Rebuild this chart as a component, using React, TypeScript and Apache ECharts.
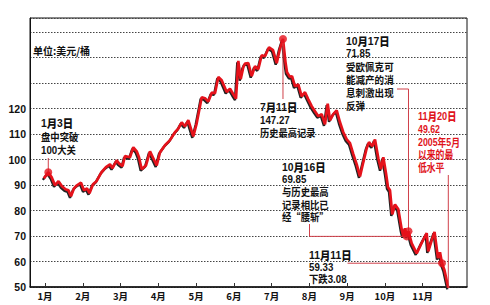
import React, { useEffect, useRef } from "react";
import * as echarts from "echarts";

// Month tick labels (value axis in "month units": 0 = start of Jan)
const monthLabels = ["1月", "2月", "3月", "4月", "5月", "6月", "7月", "8月", "9月", "10月", "11月"];
const monthTicks = [0, 1, 2, 3, 4, 5, 6, 7, 8, 9, 10];
const yLabelMax = 120;

// Oil price line (USD / barrel), x in month units
const monthPos = [
  -0.03, 0.087, 0.177, 0.265, 0.357, 0.45, 0.543, 0.622, 0.688, 0.768, 0.847, 0.953,
  1.033, 1.112, 1.178, 1.271, 1.364, 1.496, 1.615, 1.721, 1.787, 1.898, 1.959,
  2.052, 2.118, 2.25, 2.338, 2.428, 2.489, 2.56, 2.674, 2.78, 2.867, 2.957,
  3.045, 3.177, 3.31, 3.442, 3.529, 3.619, 3.707, 3.794, 3.926,
  4.016, 4.149, 4.236, 4.324, 4.414, 4.501, 4.588, 4.678, 4.811, 4.898, 4.985,
  5.057, 5.118, 5.181, 5.25, 5.295, 5.383, 5.473, 5.56, 5.647, 5.737, 5.825, 5.931,
  6.037, 6.135, 6.222, 6.301, 6.367, 6.407, 6.487, 6.54, 6.619, 6.706, 6.796, 6.884, 6.971,
  7.061, 7.148, 7.236, 7.326, 7.413, 7.485, 7.546, 7.633, 7.723, 7.81, 7.898, 7.988,
  8.075, 8.163, 8.253, 8.34, 8.427, 8.517, 8.578, 8.666, 8.737, 8.825, 8.896, 8.957,
  9.028, 9.081, 9.134, 9.195, 9.267, 9.354, 9.444, 9.487, 9.531, 9.579, 9.624, 9.709, 9.841, 9.973,
  10.106, 10.148, 10.238, 10.313, 10.405, 10.458, 10.511, 10.577, 10.678,
];
const price = [
  92.6, 95.0, 93.0, 89.9, 91.5, 89.5, 88.3, 87.9, 85.6, 88.7, 89.9, 90.9,
  87.9, 88.7, 86.8, 90.3, 91.5, 95.0, 97.0, 98.1, 96.6, 99.7, 98.5,
  97.4, 101.3, 100.9, 104.8, 103.2, 100.9, 96.2, 97.7, 103.2, 100.5, 97.7,
  102.8, 105.6, 107.6, 110.7, 112.1, 114.6, 113.0, 115.4, 109.1,
  114.2, 124.4, 124.0, 122.7, 126.2, 126.0, 132.4, 131.1, 126.5, 127.8, 125.6,
  123.9, 138.7, 131.5, 136.2, 137.6, 137.8, 132.7, 136.6, 135.4, 140.9, 140.5, 144.0,
  142.9, 137.8, 143.6, 147.27, 138.2, 134.2, 132.3, 132.7, 128.7, 129.5, 124.8, 126.4, 123.6,
  120.9, 118.9, 117.0, 117.8, 113.8, 121.9, 115.4, 117.8, 119.3, 114.6, 110.7, 107.9,
  106.4, 102.1, 98.1, 93.4, 98.9, 104.4, 106.8, 105.2, 107.9, 100.5, 96.2, 100.9,
  94.6, 89.1, 87.9, 78.5, 82.4, 80.5, 72.6, 69.9, 73.0, 69.85, 71.85, 67.1, 63.2, 67.3,
  71.1, 64.0, 68.3, 71.6, 61.3, 63.6, 59.33, 56.6, 49.62,
];

// Highlighted points: Jan 3, Jul 11, Oct 16, Oct 17, Nov 11, Nov 20
const keyPos = [0.087, 6.301, 9.579, 9.624, 10.511, 10.678];
const keyVal = [95.0, 147.27, 69.85, 71.85, 59.33, 49.62];

// Annotation text blocks
const noteLines = [
  ["1月3日", "盘中突破", "100大关"],
  ["7月11日", "147.27", "历史最高记录"],
  ["10月17日", "71.85", "受欧佩克可", "能减产的消", "息刺激出现", "反弹"],
  ["11月20日", "49.62", "2005年5月", "以来的最", "低水平"],
  ["10月16日", "69.85", "与历史最高", "记录相比已", "经“腰斩”"],
  ["11月11日", "59.33", "下跌3.08"],
];
const unitText = "单位:美元/桶";

// layout (pixels): x, y of first line centre, line height, colour, horizontal squeeze, sizes
const noteLayout = [
  { x: 41, y: 123, lh: 13.5, color: "#111", sx: 0.9, tc: 11.5, td: 11.5, bc: 10.4, bd: 10.8 },
  { x: 260, y: 107, lh: 13, color: "#111", sx: 0.9, tc: 11.5, td: 11.5, bc: 10.3, bd: 10.8 },
  { x: 346, y: 41, lh: 12.8, color: "#111", sx: 0.9, tc: 11.5, td: 11.5, bc: 10.6, bd: 10.8 },
  { x: 418, y: 116.5, lh: 12.6, color: "#e0141c", sx: 0.8, tc: 11.5, td: 11.5, bc: 11, bd: 11 },
  { x: 282, y: 166.5, lh: 12.7, color: "#111", sx: 0.9, tc: 11.5, td: 11.5, bc: 10.4, bd: 10.8 },
  { x: 309, y: 254.5, lh: 12.4, color: "#111", sx: 0.9, tc: 11.5, td: 11.5, bc: 10.4, bd: 10.8 },
];

const X_MIN = -0.397;
const X_MAX = 11.173;
const Y_MIN = 50;
const Y_MAX = 155.5;
const RED = "#e5121b";
const LEADER = "#d0404a";
const CJK = "'Noto Sans CJK SC', 'Noto Sans', sans-serif";
const LAT = "'Liberation Sans', Arial, sans-serif";

// split a line into rich-text runs: ASCII (digits/punct) vs CJK
function richLine(s: string, title: boolean) {
  const runs: string[] = [];
  let cur = "";
  let curAscii: boolean | null = null;
  for (const ch of s) {
    const a = ch.charCodeAt(0) < 128;
    if (curAscii === null || a === curAscii) {
      cur += ch;
    } else {
      runs.push(`{${title ? "t" : "b"}${curAscii ? "d" : "c"}|${cur}}`);
      cur = ch;
    }
    curAscii = a;
  }
  if (cur) runs.push(`{${title ? "t" : "b"}${curAscii ? "d" : "c"}|${cur}}`);
  return runs.join("");
}

export default function App() {
  const ref = useRef<HTMLDivElement>(null);
  useEffect(() => {
    const chart = echarts.init(ref.current!, null, { renderer: "svg" });
    const lineData = monthPos.map((m, i) => [m, price[i]]);
    const keyData = keyPos.map((m, i) => [m, keyVal[i]]);
    chart.setOption({
      animation: false,
      backgroundColor: "#fff",
      grid: [
        { left: 30, right: 23, top: 18, bottom: 18, show: true, borderColor: "#111", borderWidth: 1 },
        { left: 29, right: 24, top: 19.5, bottom: 16.5, show: false },
      ],
      xAxis: [
        {
          gridIndex: 0,
          type: "value",
          min: X_MIN,
          max: X_MAX,
          splitLine: { show: false },
          axisLine: { show: true, onZero: false, lineStyle: { color: "#111", width: 1.5 } },
          axisTick: { show: true, inside: true, length: 4, customValues: monthTicks, lineStyle: { color: "#333" } },
          axisLabel: {
            customValues: monthTicks,
            formatter: (v: number) => monthLabels[Math.round(v)] ?? "",
            margin: 4,
            fontSize: 9.5,
            fontWeight: "bold",
            fontFamily: CJK,
            color: "#111",
          },
        },
        { gridIndex: 1, type: "value", min: X_MIN, max: X_MAX, show: false },
      ],
      yAxis: [
        {
          gridIndex: 0,
          type: "value",
          min: Y_MIN,
          max: Y_MAX,
          interval: 10,
          axisLine: { show: true, onZero: false, lineStyle: { color: "#111", width: 1 } },
          axisTick: { show: false },
          axisLabel: {
            formatter: (v: number) => (v <= yLabelMax && v % 10 === 0 ? String(v) : ""),
            margin: 4,
            fontSize: 10.5,
            fontWeight: "bold",
            fontFamily: LAT,
            color: "#111",
            showMaxLabel: false,
          },
          splitLine: { show: true, lineStyle: { color: "#444", type: [1.5, 1.5], width: 1 } },
        },
        { gridIndex: 1, type: "value", min: Y_MIN, max: Y_MAX, show: false },
      ],
      series: [
        {
          type: "line",
          xAxisIndex: 1,
          yAxisIndex: 1,
          data: lineData,
          symbol: "none",
          lineStyle: { color: "#222", width: 2.4 },
          z: 2,
        },
        {
          type: "line",
          data: lineData,
          symbol: "none",
          lineStyle: { color: RED, width: 2.7 },
          z: 3,
        },
        {
          type: "scatter",
          data: keyData,
          symbolSize: 8,
          itemStyle: { color: RED },
          z: 5,
        },
      ],
    });

    const p = keyPos.map((m, i) => chart.convertToPixel({ gridIndex: 0 }, [m, keyVal[i]]) as number[]);

    const elements: any[] = [];
    elements.push({
      type: "text",
      x: 33,
      y: 50,
      style: { text: unitText, fill: "#111", fontSize: 10, fontWeight: "bold", fontFamily: CJK, verticalAlign: "middle" },
      z: 10,
    });
    noteLines.forEach((lines, bi) => {
      const L = noteLayout[bi];
      const text = lines.map((t, li) => richLine(t, li === 0)).join("\n");
      const base = { fill: L.color, lineHeight: L.lh, verticalAlign: "middle" };
      elements.push({
        type: "text",
        x: L.x,
        y: L.y - L.lh / 2,
        scaleX: L.sx,
        style: {
          text,
          verticalAlign: "top",
          rich: {
            tc: { ...base, fontSize: L.tc, fontWeight: 900, fontFamily: CJK },
            td: { ...base, fontSize: L.td, fontWeight: "bold", fontFamily: LAT },
            bc: { ...base, fontSize: L.bc, fontWeight: "bold", fontFamily: CJK },
            bd: { ...base, fontSize: L.bd, fontWeight: "bold", fontFamily: LAT },
          },
        },
        z: 10,
      });
    });
    const leaders: number[][][] = [
      [[p[0][0], 158], [p[0][0], p[0][1]]],
      [[p[1][0], p[1][1]], [p[1][0], 99]],
      [[397, 89], [p[3][0], 89], [p[3][0], p[3][1]]],
      [[p[5][0], 175], [p[5][0], p[5][1]]],
      [[309.5, 224], [309.5, p[2][1]], [p[2][0], p[2][1]]],
      [[347.5, p[4][1]], [p[4][0], p[4][1]]],
    ];
    leaders.forEach((pts) => {
      elements.push({
        type: "polyline",
        shape: { points: pts },
        style: { stroke: LEADER, lineWidth: 1, fill: null },
        z: 4,
      });
    });
    chart.setOption({ graphic: elements });
    return () => chart.dispose();
  }, []);
  return <div ref={ref} style={{ width: 490, height: 305, position: "fixed", left: 0, top: 0 }} />;
}
